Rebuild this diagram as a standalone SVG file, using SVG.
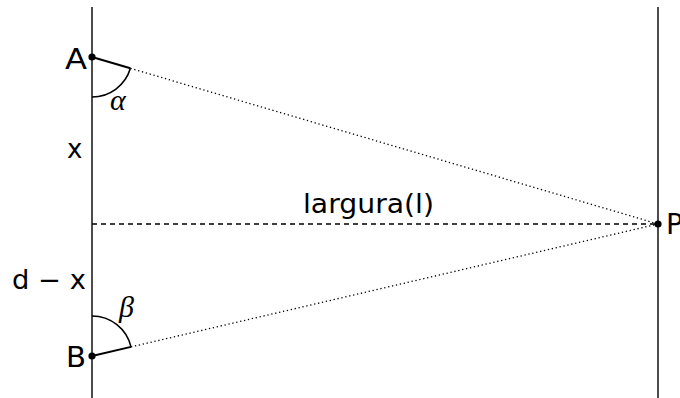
<svg xmlns="http://www.w3.org/2000/svg" width="680" height="398" viewBox="0 0 680 398">
<style>
.t{font-family:"DejaVu Sans","Liberation Sans",sans-serif;font-size:26px;fill:#000}
.c{font-size:28px}
.g{font-family:"Liberation Serif","DejaVu Serif",serif;font-style:italic;font-size:30px;fill:#000}
.wall{stroke:#000;stroke-width:1.4;fill:none}
.seg{stroke:#000;stroke-width:2;fill:none}
.arc{stroke:#000;stroke-width:1.6;fill:none}
.dot{stroke:#000;stroke-width:1.3;stroke-dasharray:1.3 2.7;fill:none}
.dash{stroke:#000;stroke-width:1.4;stroke-dasharray:5 4;fill:none}
</style>
<rect width="680" height="398" fill="#fff"/>
<g id="walls">
<line class="wall" x1="92" y1="7" x2="92" y2="398"/>
<line class="wall" x1="658" y1="7" x2="658" y2="398"/>
</g>
<g id="connectors">
<line class="dot" x1="130.4" y1="68.3" x2="658" y2="224"/>
<line class="dot" x1="131" y1="346.9" x2="658" y2="224"/>
<line class="dash" x1="92" y1="224" x2="658" y2="224"/>
<line class="seg" x1="92" y1="57" x2="130.4" y2="68.3"/>
<line class="seg" x1="92" y1="356" x2="131" y2="346.9"/>
<path class="arc" d="M92,97 A40,40 0 0 0 130.4,68.3"/>
<path class="arc" d="M92,316 A40,40 0 0 1 131,346.9"/>
</g>
<g id="A">
<circle cx="92" cy="57" r="3.6" fill="#000"/>
<text class="t c" x="65" y="69" textLength="22" lengthAdjust="spacingAndGlyphs">A</text>
<text class="g" x="110" y="110">α</text>
</g>
<g id="B">
<circle cx="92" cy="356" r="3.6" fill="#000"/>
<text class="t c" x="66" y="367" textLength="20" lengthAdjust="spacingAndGlyphs">B</text>
<text class="g" x="119" y="317">β</text>
</g>
<g id="P">
<circle cx="658" cy="224" r="3.6" fill="#000"/>
<text class="t c" x="666" y="234">P</text>
</g>
<g id="labels">
<text class="t" x="67" y="158">x</text>
<text class="t" x="12" y="289" textLength="74" lengthAdjust="spacingAndGlyphs">d − x</text>
<text class="t" x="303" y="213" textLength="131" lengthAdjust="spacingAndGlyphs">largura(l)</text>
</g>
</svg>
